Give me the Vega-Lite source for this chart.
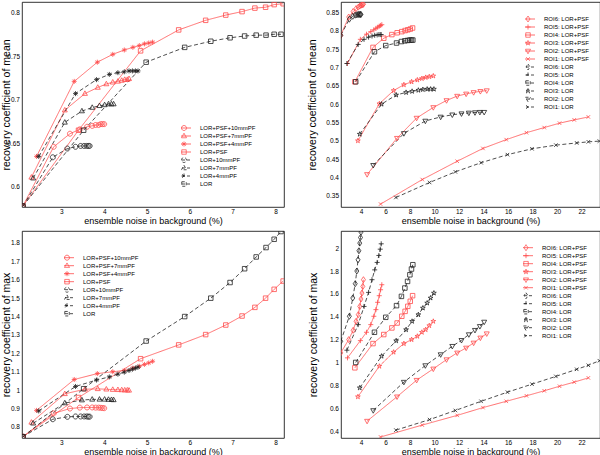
{
"$schema": "https://vega.github.io/schema/vega-lite/v6.json",
"padding": {"left": 0, "top": 1, "right": 0, "bottom": 0},
"autosize": {"type": "pad"},
"bounds": "flush",
"spacing": {"row": 24, "column": 57},
"columns": 2,
"datasets": {
"pf": [
{"s":"LOR+PSF+10mmPF","x":2.1,"mean":0.578,"max":0.747},{"s":"LOR+PSF+10mmPF","x":2.82,"mean":0.646,"max":0.874},{"s":"LOR+PSF+10mmPF","x":3.2,"mean":0.661,"max":0.9},{"s":"LOR+PSF+10mmPF","x":3.43,"mean":0.666,"max":0.905},{"s":"LOR+PSF+10mmPF","x":3.6,"mean":0.669,"max":0.906},{"s":"LOR+PSF+10mmPF","x":3.72,"mean":0.67,"max":0.906},{"s":"LOR+PSF+10mmPF","x":3.8,"mean":0.671,"max":0.905},{"s":"LOR+PSF+10mmPF","x":3.87,"mean":0.671,"max":0.905},{"s":"LOR+PSF+10mmPF","x":3.92,"mean":0.672,"max":0.904},{"s":"LOR+PSF+10mmPF","x":3.96,"mean":0.672,"max":0.903},{"s":"LOR+PSF+10mmPF","x":4.0,"mean":0.672,"max":0.902},
{"s":"LOR+PSF+7mmPF","x":2.3,"mean":0.611,"max":0.825},{"s":"LOR+PSF+7mmPF","x":3.08,"mean":0.688,"max":0.98},{"s":"LOR+PSF+7mmPF","x":3.55,"mean":0.707,"max":1.005},{"s":"LOR+PSF+7mmPF","x":3.85,"mean":0.714,"max":1.007},{"s":"LOR+PSF+7mmPF","x":4.05,"mean":0.718,"max":1.005},{"s":"LOR+PSF+7mmPF","x":4.2,"mean":0.72,"max":1.003},{"s":"LOR+PSF+7mmPF","x":4.32,"mean":0.721,"max":1.002},{"s":"LOR+PSF+7mmPF","x":4.41,"mean":0.722,"max":1.001},{"s":"LOR+PSF+7mmPF","x":4.48,"mean":0.723,"max":1.0},{"s":"LOR+PSF+7mmPF","x":4.54,"mean":0.723,"max":1.0},{"s":"LOR+PSF+7mmPF","x":4.58,"mean":0.724,"max":0.999},
{"s":"LOR+PSF+4mmPF","x":2.42,"mean":0.635,"max":0.89},{"s":"LOR+PSF+4mmPF","x":3.3,"mean":0.721,"max":1.058},{"s":"LOR+PSF+4mmPF","x":3.84,"mean":0.743,"max":1.09},{"s":"LOR+PSF+4mmPF","x":4.2,"mean":0.752,"max":1.1},{"s":"LOR+PSF+4mmPF","x":4.47,"mean":0.757,"max":1.107},{"s":"LOR+PSF+4mmPF","x":4.67,"mean":0.76,"max":1.12},{"s":"LOR+PSF+4mmPF","x":4.82,"mean":0.762,"max":1.13},{"s":"LOR+PSF+4mmPF","x":4.94,"mean":0.764,"max":1.14},{"s":"LOR+PSF+4mmPF","x":5.04,"mean":0.765,"max":1.148},{"s":"LOR+PSF+4mmPF","x":5.13,"mean":0.766,"max":1.157},
{"s":"LOR+PSF","x":2.1,"mean":0.578,"max":0.747},{"s":"LOR+PSF","x":3.4,"mean":0.665,"max":0.96},{"s":"LOR+PSF","x":4.85,"mean":0.756,"max":1.171},{"s":"LOR+PSF","x":5.74,"mean":0.78,"max":1.246},{"s":"LOR+PSF","x":6.37,"mean":0.791,"max":1.302},{"s":"LOR+PSF","x":6.84,"mean":0.797,"max":1.354},{"s":"LOR+PSF","x":7.22,"mean":0.801,"max":1.403},{"s":"LOR+PSF","x":7.52,"mean":0.805,"max":1.45},{"s":"LOR+PSF","x":7.77,"mean":0.806,"max":1.5},{"s":"LOR+PSF","x":7.97,"mean":0.809,"max":1.548},{"s":"LOR+PSF","x":8.18,"mean":0.81,"max":1.593},
{"s":"LOR+10mmPF","x":2.1,"mean":0.578,"max":0.747},{"s":"LOR+10mmPF","x":2.8,"mean":0.634,"max":0.842},{"s":"LOR+10mmPF","x":3.14,"mean":0.644,"max":0.855},{"s":"LOR+10mmPF","x":3.33,"mean":0.646,"max":0.857},{"s":"LOR+10mmPF","x":3.45,"mean":0.647,"max":0.857},{"s":"LOR+10mmPF","x":3.53,"mean":0.647,"max":0.857},{"s":"LOR+10mmPF","x":3.59,"mean":0.647,"max":0.857},{"s":"LOR+10mmPF","x":3.63,"mean":0.647,"max":0.856},{"s":"LOR+10mmPF","x":3.66,"mean":0.647,"max":0.856},
{"s":"LOR+7mmPF","x":2.34,"mean":0.61,"max":0.82},{"s":"LOR+7mmPF","x":3.08,"mean":0.674,"max":0.93},{"s":"LOR+7mmPF","x":3.48,"mean":0.687,"max":0.946},{"s":"LOR+7mmPF","x":3.72,"mean":0.691,"max":0.95},{"s":"LOR+7mmPF","x":3.89,"mean":0.693,"max":0.95},{"s":"LOR+7mmPF","x":4.01,"mean":0.694,"max":0.95},{"s":"LOR+7mmPF","x":4.1,"mean":0.695,"max":0.949},{"s":"LOR+7mmPF","x":4.17,"mean":0.695,"max":0.948},{"s":"LOR+7mmPF","x":4.22,"mean":0.695,"max":0.947},
{"s":"LOR+4mmPF","x":2.47,"mean":0.635,"max":0.887},{"s":"LOR+4mmPF","x":3.33,"mean":0.707,"max":1.02},{"s":"LOR+4mmPF","x":3.82,"mean":0.723,"max":1.055},{"s":"LOR+4mmPF","x":4.12,"mean":0.729,"max":1.072},{"s":"LOR+4mmPF","x":4.32,"mean":0.731,"max":1.087},{"s":"LOR+4mmPF","x":4.47,"mean":0.732,"max":1.098},{"s":"LOR+4mmPF","x":4.58,"mean":0.733,"max":1.107},{"s":"LOR+4mmPF","x":4.66,"mean":0.733,"max":1.114},{"s":"LOR+4mmPF","x":4.73,"mean":0.733,"max":1.12},{"s":"LOR+4mmPF","x":4.79,"mean":0.733,"max":1.125},
{"s":"LOR","x":2.1,"mean":0.578,"max":0.747},{"s":"LOR","x":3.52,"mean":0.665,"max":1.008},{"s":"LOR","x":4.98,"mean":0.743,"max":1.267},{"s":"LOR","x":5.88,"mean":0.76,"max":1.4},{"s":"LOR","x":6.49,"mean":0.767,"max":1.5},{"s":"LOR","x":6.94,"mean":0.771,"max":1.585},{"s":"LOR","x":7.28,"mean":0.773,"max":1.66},{"s":"LOR","x":7.55,"mean":0.774,"max":1.724},{"s":"LOR","x":7.78,"mean":0.774,"max":1.775},{"s":"LOR","x":7.97,"mean":0.775,"max":1.82},{"s":"LOR","x":8.13,"mean":0.775,"max":1.862}
],
"roi": [
{"s":"ROI6: LOR+PSF","x":2.35,"mean":0.788,"max":1.084},{"s":"ROI6: LOR+PSF","x":3.0,"mean":0.838,"max":1.2},{"s":"ROI6: LOR+PSF","x":3.36,"mean":0.853,"max":1.281},{"s":"ROI6: LOR+PSF","x":3.6,"mean":0.861,"max":1.36},{"s":"ROI6: LOR+PSF","x":3.78,"mean":0.865,"max":1.418},{"s":"ROI6: LOR+PSF","x":3.9,"mean":0.868,"max":1.49},{"s":"ROI6: LOR+PSF","x":4.0,"mean":0.87,"max":1.555},{"s":"ROI6: LOR+PSF","x":4.08,"mean":0.871,"max":1.607},{"s":"ROI6: LOR+PSF","x":4.15,"mean":0.872,"max":1.665},{"s":"ROI6: LOR+PSF","x":4.2,"mean":0.873,"max":1.724},
{"s":"ROI5: LOR+PSF","x":2.9,"mean":0.711,"max":1.04},{"s":"ROI5: LOR+PSF","x":3.95,"mean":0.777,"max":1.191},{"s":"ROI5: LOR+PSF","x":4.45,"mean":0.791,"max":1.264},{"s":"ROI5: LOR+PSF","x":4.8,"mean":0.798,"max":1.331},{"s":"ROI5: LOR+PSF","x":5.05,"mean":0.803,"max":1.404},{"s":"ROI5: LOR+PSF","x":5.22,"mean":0.807,"max":1.462},{"s":"ROI5: LOR+PSF","x":5.36,"mean":0.81,"max":1.526},{"s":"ROI5: LOR+PSF","x":5.49,"mean":0.813,"max":1.584},{"s":"ROI5: LOR+PSF","x":5.6,"mean":0.815,"max":1.636},{"s":"ROI5: LOR+PSF","x":5.7,"mean":0.817,"max":1.68},
{"s":"ROI4: LOR+PSF","x":3.5,"mean":0.661,"max":0.953},{"s":"ROI4: LOR+PSF","x":4.98,"mean":0.755,"max":1.165},{"s":"ROI4: LOR+PSF","x":5.86,"mean":0.78,"max":1.244},{"s":"ROI4: LOR+PSF","x":6.52,"mean":0.79,"max":1.302},{"s":"ROI4: LOR+PSF","x":6.95,"mean":0.795,"max":1.345},{"s":"ROI4: LOR+PSF","x":7.33,"mean":0.798,"max":1.404},{"s":"ROI4: LOR+PSF","x":7.6,"mean":0.801,"max":1.447},{"s":"ROI4: LOR+PSF","x":7.82,"mean":0.803,"max":1.491},{"s":"ROI4: LOR+PSF","x":8.02,"mean":0.805,"max":1.535},{"s":"ROI4: LOR+PSF","x":8.21,"mean":0.808,"max":1.584},
{"s":"ROI3: LOR+PSF","x":3.75,"mean":0.5,"max":0.7},{"s":"ROI3: LOR+PSF","x":5.5,"mean":0.601,"max":0.967},{"s":"ROI3: LOR+PSF","x":6.66,"mean":0.637,"max":1.09},{"s":"ROI3: LOR+PSF","x":7.5,"mean":0.653,"max":1.165},{"s":"ROI3: LOR+PSF","x":8.13,"mean":0.661,"max":1.2},{"s":"ROI3: LOR+PSF","x":8.6,"mean":0.666,"max":1.229},{"s":"ROI3: LOR+PSF","x":8.97,"mean":0.67,"max":1.264},{"s":"ROI3: LOR+PSF","x":9.28,"mean":0.673,"max":1.287},{"s":"ROI3: LOR+PSF","x":9.57,"mean":0.675,"max":1.322},{"s":"ROI3: LOR+PSF","x":9.9,"mean":0.677,"max":1.36},
{"s":"ROI2: LOR+PSF","x":4.5,"mean":0.408,"max":0.487},{"s":"ROI2: LOR+PSF","x":6.94,"mean":0.507,"max":0.7},{"s":"ROI2: LOR+PSF","x":8.54,"mean":0.562,"max":0.845},{"s":"ROI2: LOR+PSF","x":9.9,"mean":0.591,"max":0.944},{"s":"ROI2: LOR+PSF","x":10.98,"mean":0.61,"max":1.025},{"s":"ROI2: LOR+PSF","x":11.85,"mean":0.622,"max":1.084},{"s":"ROI2: LOR+PSF","x":12.58,"mean":0.628,"max":1.127},{"s":"ROI2: LOR+PSF","x":13.19,"mean":0.632,"max":1.171},{"s":"ROI2: LOR+PSF","x":13.74,"mean":0.635,"max":1.215},{"s":"ROI2: LOR+PSF","x":14.26,"mean":0.637,"max":1.252},
{"s":"ROI1: LOR+PSF","x":5.6,"mean":0.327,"max":0.348},{"s":"ROI1: LOR+PSF","x":9.0,"mean":0.394,"max":0.452},{"s":"ROI1: LOR+PSF","x":11.85,"mean":0.444,"max":0.537},{"s":"ROI1: LOR+PSF","x":13.95,"mean":0.479,"max":0.605},{"s":"ROI1: LOR+PSF","x":15.85,"mean":0.503,"max":0.66},{"s":"ROI1: LOR+PSF","x":17.5,"mean":0.522,"max":0.708},{"s":"ROI1: LOR+PSF","x":18.95,"mean":0.536,"max":0.752},{"s":"ROI1: LOR+PSF","x":20.2,"mean":0.548,"max":0.792},{"s":"ROI1: LOR+PSF","x":21.4,"mean":0.557,"max":0.828},{"s":"ROI1: LOR+PSF","x":22.55,"mean":0.565,"max":0.865},
{"s":"ROI6: LOR","x":2.35,"mean":0.788,"max":1.185},{"s":"ROI6: LOR","x":3.05,"mean":0.832,"max":1.404},{"s":"ROI6: LOR","x":3.33,"mean":0.84,"max":1.564},{"s":"ROI6: LOR","x":3.53,"mean":0.843,"max":1.689},{"s":"ROI6: LOR","x":3.66,"mean":0.844,"max":1.8},{"s":"ROI6: LOR","x":3.76,"mean":0.845,"max":1.898},{"s":"ROI6: LOR","x":3.83,"mean":0.845,"max":1.977},{"s":"ROI6: LOR","x":3.9,"mean":0.845,"max":2.044},{"s":"ROI6: LOR","x":3.96,"mean":0.845,"max":2.093},{"s":"ROI6: LOR","x":4.0,"mean":0.845,"max":2.14},
{"s":"ROI5: LOR","x":2.85,"mean":0.711,"max":1.107},{"s":"ROI5: LOR","x":3.77,"mean":0.763,"max":1.331},{"s":"ROI5: LOR","x":4.25,"mean":0.777,"max":1.49},{"s":"ROI5: LOR","x":4.62,"mean":0.783,"max":1.613},{"s":"ROI5: LOR","x":4.9,"mean":0.786,"max":1.724},{"s":"ROI5: LOR","x":5.12,"mean":0.788,"max":1.81},{"s":"ROI5: LOR","x":5.32,"mean":0.789,"max":1.875},{"s":"ROI5: LOR","x":5.46,"mean":0.79,"max":1.936},{"s":"ROI5: LOR","x":5.57,"mean":0.79,"max":1.991},{"s":"ROI5: LOR","x":5.65,"mean":0.79,"max":2.038},
{"s":"ROI4: LOR","x":3.57,"mean":0.661,"max":1.0},{"s":"ROI4: LOR","x":5.1,"mean":0.743,"max":1.264},{"s":"ROI4: LOR","x":6.02,"mean":0.76,"max":1.395},{"s":"ROI4: LOR","x":6.9,"mean":0.767,"max":1.497},{"s":"ROI4: LOR","x":7.3,"mean":0.771,"max":1.578},{"s":"ROI4: LOR","x":7.58,"mean":0.773,"max":1.651},{"s":"ROI4: LOR","x":7.8,"mean":0.774,"max":1.709},{"s":"ROI4: LOR","x":7.99,"mean":0.775,"max":1.767},{"s":"ROI4: LOR","x":8.12,"mean":0.775,"max":1.817},{"s":"ROI4: LOR","x":8.23,"mean":0.775,"max":1.855},
{"s":"ROI3: LOR","x":3.9,"mean":0.518,"max":0.778},{"s":"ROI3: LOR","x":5.68,"mean":0.6,"max":1.055},{"s":"ROI3: LOR","x":6.87,"mean":0.625,"max":1.19},{"s":"ROI3: LOR","x":7.68,"mean":0.632,"max":1.287},{"s":"ROI3: LOR","x":8.17,"mean":0.635,"max":1.36},{"s":"ROI3: LOR","x":8.68,"mean":0.638,"max":1.418},{"s":"ROI3: LOR","x":9.05,"mean":0.64,"max":1.476},{"s":"ROI3: LOR","x":9.4,"mean":0.641,"max":1.52},{"s":"ROI3: LOR","x":9.68,"mean":0.641,"max":1.564},{"s":"ROI3: LOR","x":9.95,"mean":0.641,"max":1.607},
{"s":"ROI2: LOR","x":5.0,"mean":0.433,"max":0.58},{"s":"ROI2: LOR","x":7.5,"mean":0.52,"max":0.828},{"s":"ROI2: LOR","x":9.25,"mean":0.554,"max":0.973},{"s":"ROI2: LOR","x":10.5,"mean":0.565,"max":1.069},{"s":"ROI2: LOR","x":11.45,"mean":0.571,"max":1.142},{"s":"ROI2: LOR","x":12.2,"mean":0.574,"max":1.194},{"s":"ROI2: LOR","x":12.8,"mean":0.576,"max":1.244},{"s":"ROI2: LOR","x":13.3,"mean":0.577,"max":1.282},{"s":"ROI2: LOR","x":13.7,"mean":0.578,"max":1.316},{"s":"ROI2: LOR","x":14.05,"mean":0.578,"max":1.354},
{"s":"ROI1: LOR","x":6.85,"mean":0.345,"max":0.408},{"s":"ROI1: LOR","x":9.6,"mean":0.386,"max":0.5},{"s":"ROI1: LOR","x":11.7,"mean":0.415,"max":0.58},{"s":"ROI1: LOR","x":13.8,"mean":0.44,"max":0.66},{"s":"ROI1: LOR","x":15.95,"mean":0.462,"max":0.74},{"s":"ROI1: LOR","x":17.95,"mean":0.478,"max":0.81},{"s":"ROI1: LOR","x":19.9,"mean":0.488,"max":0.878},{"s":"ROI1: LOR","x":21.6,"mean":0.494,"max":0.94},{"s":"ROI1: LOR","x":22.55,"mean":0.497,"max":0.975},{"s":"ROI1: LOR","x":23.45,"mean":0.499,"max":1.015}
]
},
"concat": [
{
"width": 262, "height": 205,
"data": {"name": "pf"},
"encoding": {
"x": {"field": "x", "type": "quantitative", "scale": {"domain": [2.08, 8.2], "nice": false, "zero": false}, "axis": {"values": [3,4,5,6,7,8], "title": "ensemble noise in background (%)"}},
"y": {"field": "mean", "type": "quantitative", "scale": {"domain": [0.577, 0.812], "nice": false, "zero": false}, "axis": {"values": [0.6,0.65,0.7,0.75,0.8], "format": "~g", "title": "recovery coefficient of mean", "titleX": -21, "titleBaseline": "top"}}
},
"layer": [
{"mark": {"type": "line", "clip": true, "strokeWidth": 0.8},
"encoding": {
"color": {"field": "s", "type": "nominal", "scale": {"domain": ["LOR+PSF+10mmPF","LOR+PSF+7mmPF","LOR+PSF+4mmPF","LOR+PSF","LOR+10mmPF","LOR+7mmPF","LOR+4mmPF","LOR"], "range": ["#ff4a4a","#ff4a4a","#ff4a4a","#ff4a4a","#222222","#222222","#222222","#222222"]},
"legend": {"orient": "none", "legendX": 159, "legendY": 122, "title": null, "padding": 0, "symbolSize": 25, "symbolStrokeWidth": 0.8, "labelOffset": 13, "rowPadding": 0, "clipHeight": 8,
"encode": {"symbols": {"update": {"shape": {"signal": "'M-2.8,0L2.8,0' + ['M-1,0A1,1,0,1,1,1,0A1,1,0,1,1,-1,0Z','M0,-1.1L1,0.7L-1,0.7Z','M-1,0L1,0M0,-1L0,1M-0.7,-0.7L0.7,0.7M-0.7,0.7L0.7,-0.7','M-0.9,-0.9L0.9,-0.9L0.9,0.9L-0.9,0.9Z'][indexof(['LOR+PSF+10mmPF','LOR+PSF+7mmPF','LOR+PSF+4mmPF','LOR+PSF','LOR+10mmPF','LOR+7mmPF','LOR+4mmPF','LOR'], datum.value) % 4]"}, "strokeDash": {"signal": "indexof(['LOR+PSF+10mmPF','LOR+PSF+7mmPF','LOR+PSF+4mmPF','LOR+PSF','LOR+10mmPF','LOR+7mmPF','LOR+4mmPF','LOR'], datum.value) >= 4 ? [3,2] : [1,0]"}, "fill": {"value": "transparent"}}}}}},
"strokeDash": {"field": "s", "type": "nominal", "scale": {"domain": ["LOR","LOR+4mmPF","LOR+7mmPF","LOR+10mmPF","LOR+PSF","LOR+PSF+4mmPF","LOR+PSF+7mmPF","LOR+PSF+10mmPF"], "range": [[4,2.5],[4,2.5],[4,2.5],[4,2.5],[1,0],[1,0],[1,0],[1,0]]}, "legend": null}
}},
{"mark": {"type": "point", "clip": true, "filled": false, "strokeWidth": 0.8, "size": 25, "opacity": 1},
"encoding": {
"color": {"field": "s", "type": "nominal", "scale": {"domain": ["LOR+PSF+10mmPF","LOR+PSF+7mmPF","LOR+PSF+4mmPF","LOR+PSF","LOR+10mmPF","LOR+7mmPF","LOR+4mmPF","LOR"], "range": ["#ff4a4a","#ff4a4a","#ff4a4a","#ff4a4a","#222222","#222222","#222222","#222222"]}, "legend": null},
"shape": {"field": "s", "type": "nominal", "scale": {"domain": ["LOR+10mmPF","LOR+7mmPF","LOR+4mmPF","LOR","LOR+PSF+10mmPF","LOR+PSF+7mmPF","LOR+PSF+4mmPF","LOR+PSF"], "range": ["M-1,0A1,1,0,1,1,1,0A1,1,0,1,1,-1,0Z","M0,-1.1L1,0.7L-1,0.7Z","M-1,0L1,0M0,-1L0,1M-0.7,-0.7L0.7,0.7M-0.7,0.7L0.7,-0.7","M-0.9,-0.9L0.9,-0.9L0.9,0.9L-0.9,0.9Z","M-1,0A1,1,0,1,1,1,0A1,1,0,1,1,-1,0Z","M0,-1.1L1,0.7L-1,0.7Z","M-1,0L1,0M0,-1L0,1M-0.7,-0.7L0.7,0.7M-0.7,0.7L0.7,-0.7","M-0.9,-0.9L0.9,-0.9L0.9,0.9L-0.9,0.9Z"]}, "legend": null}
}}
]
},
{
"width": 259, "height": 205,
"data": {"name": "roi"},
"encoding": {
"x": {"field": "x", "type": "quantitative", "scale": {"domain": [2.37, 23.5], "nice": false, "zero": false}, "axis": {"values": [4,6,8,10,12,14,16,18,20,22], "title": "ensemble noise in background (%)"}},
"y": {"field": "mean", "type": "quantitative", "scale": {"domain": [0.319, 0.879], "nice": false, "zero": false}, "axis": {"values": [0.35,0.4,0.45,0.5,0.55,0.6,0.65,0.7,0.75,0.8,0.85], "format": "~g", "title": "recovery coefficient of mean", "titleX": -34, "titleBaseline": "top"}}
},
"layer": [
{"mark": {"type": "line", "clip": true, "strokeWidth": 0.8},
"encoding": {
"color": {"field": "s", "type": "nominal", "scale": {"domain": ["ROI6: LOR+PSF","ROI5: LOR+PSF","ROI4: LOR+PSF","ROI3: LOR+PSF","ROI2: LOR+PSF","ROI1: LOR+PSF","ROI6: LOR","ROI5: LOR","ROI4: LOR","ROI3: LOR","ROI2: LOR","ROI1: LOR"], "range": ["#ff4a4a","#ff4a4a","#ff4a4a","#ff4a4a","#ff4a4a","#ff4a4a","#222222","#222222","#222222","#222222","#222222","#222222"]},
"legend": {"orient": "none", "legendX": 184, "legendY": 13, "title": null, "padding": 0, "symbolSize": 25, "symbolStrokeWidth": 0.8, "labelOffset": 13, "rowPadding": 0, "clipHeight": 8,
"encode": {"symbols": {"update": {"shape": {"signal": "'M-2.8,0L2.8,0' + ['M0,-1.2L0.8,0L0,1.2L-0.8,0Z','M-1,0L1,0M0,-1L0,1','M-0.9,-0.9L0.9,-0.9L0.9,0.9L-0.9,0.9Z','M0,-1L0.225,-0.309L0.951,-0.309L0.363,0.118L0.588,0.809L0,0.382L-0.588,0.809L-0.363,0.118L-0.951,-0.309L-0.225,-0.309Z','M-1,-0.7L1,-0.7L0,1.1Z','M-0.7,-0.7L0.7,0.7M-0.7,0.7L0.7,-0.7'][indexof(['ROI6: LOR+PSF','ROI5: LOR+PSF','ROI4: LOR+PSF','ROI3: LOR+PSF','ROI2: LOR+PSF','ROI1: LOR+PSF','ROI6: LOR','ROI5: LOR','ROI4: LOR','ROI3: LOR','ROI2: LOR','ROI1: LOR'], datum.value) % 6]"}, "strokeDash": {"signal": "indexof(['ROI6: LOR+PSF','ROI5: LOR+PSF','ROI4: LOR+PSF','ROI3: LOR+PSF','ROI2: LOR+PSF','ROI1: LOR+PSF','ROI6: LOR','ROI5: LOR','ROI4: LOR','ROI3: LOR','ROI2: LOR','ROI1: LOR'], datum.value) >= 6 ? [3,2] : [1,0]"}, "fill": {"value": "transparent"}}}}}},
"strokeDash": {"field": "s", "type": "nominal", "scale": {"domain": ["ROI1: LOR","ROI2: LOR","ROI3: LOR","ROI4: LOR","ROI5: LOR","ROI6: LOR","ROI1: LOR+PSF","ROI2: LOR+PSF","ROI3: LOR+PSF","ROI4: LOR+PSF","ROI5: LOR+PSF","ROI6: LOR+PSF"], "range": [[4,2.5],[4,2.5],[4,2.5],[4,2.5],[4,2.5],[4,2.5],[1,0],[1,0],[1,0],[1,0],[1,0],[1,0]]}, "legend": null}
}},
{"mark": {"type": "point", "clip": true, "filled": false, "strokeWidth": 0.8, "size": 25, "opacity": 1},
"encoding": {
"color": {"field": "s", "type": "nominal", "scale": {"domain": ["ROI6: LOR+PSF","ROI5: LOR+PSF","ROI4: LOR+PSF","ROI3: LOR+PSF","ROI2: LOR+PSF","ROI1: LOR+PSF","ROI6: LOR","ROI5: LOR","ROI4: LOR","ROI3: LOR","ROI2: LOR","ROI1: LOR"], "range": ["#ff4a4a","#ff4a4a","#ff4a4a","#ff4a4a","#ff4a4a","#ff4a4a","#222222","#222222","#222222","#222222","#222222","#222222"]}, "legend": null},
"shape": {"field": "s", "type": "nominal", "scale": {"domain": ["ROI6: LOR","ROI5: LOR","ROI4: LOR","ROI3: LOR","ROI2: LOR","ROI1: LOR","ROI6: LOR+PSF","ROI5: LOR+PSF","ROI4: LOR+PSF","ROI3: LOR+PSF","ROI2: LOR+PSF","ROI1: LOR+PSF"], "range": ["M0,-1.2L0.8,0L0,1.2L-0.8,0Z","M-1,0L1,0M0,-1L0,1","M-0.9,-0.9L0.9,-0.9L0.9,0.9L-0.9,0.9Z","M0,-1L0.225,-0.309L0.951,-0.309L0.363,0.118L0.588,0.809L0,0.382L-0.588,0.809L-0.363,0.118L-0.951,-0.309L-0.225,-0.309Z","M-1,-0.7L1,-0.7L0,1.1Z","M-0.7,-0.7L0.7,0.7M-0.7,0.7L0.7,-0.7","M0,-1.2L0.8,0L0,1.2L-0.8,0Z","M-1,0L1,0M0,-1L0,1","M-0.9,-0.9L0.9,-0.9L0.9,0.9L-0.9,0.9Z","M0,-1L0.225,-0.309L0.951,-0.309L0.363,0.118L0.588,0.809L0,0.382L-0.588,0.809L-0.363,0.118L-0.951,-0.309L-0.225,-0.309Z","M-1,-0.7L1,-0.7L0,1.1Z","M-0.7,-0.7L0.7,0.7M-0.7,0.7L0.7,-0.7"]}, "legend": null}
}}
]
},
{
"width": 262, "height": 207,
"data": {"name": "pf"},
"encoding": {
"x": {"field": "x", "type": "quantitative", "scale": {"domain": [2.08, 8.2], "nice": false, "zero": false}, "axis": {"values": [3,4,5,6,7,8], "title": "ensemble noise in background (%)"}},
"y": {"field": "max", "type": "quantitative", "scale": {"domain": [0.74, 1.865], "nice": false, "zero": false}, "axis": {"values": [0.8,0.9,1,1.1,1.2,1.3,1.4,1.5,1.6,1.7,1.8], "format": "~g", "title": "recovery coefficient of max", "titleX": -21, "titleBaseline": "top"}}
},
"layer": [
{"mark": {"type": "line", "clip": true, "strokeWidth": 0.8},
"encoding": {
"color": {"field": "s", "type": "nominal", "scale": {"domain": ["LOR+PSF+10mmPF","LOR+PSF+7mmPF","LOR+PSF+4mmPF","LOR+PSF","LOR+10mmPF","LOR+7mmPF","LOR+4mmPF","LOR"], "range": ["#ff4a4a","#ff4a4a","#ff4a4a","#ff4a4a","#222222","#222222","#222222","#222222"]},
"legend": {"orient": "none", "legendX": 42, "legendY": 22.7, "title": null, "padding": 0, "symbolSize": 25, "symbolStrokeWidth": 0.8, "labelOffset": 13, "rowPadding": 0, "clipHeight": 8,
"encode": {"symbols": {"update": {"shape": {"signal": "'M-2.8,0L2.8,0' + ['M-1,0A1,1,0,1,1,1,0A1,1,0,1,1,-1,0Z','M0,-1.1L1,0.7L-1,0.7Z','M-1,0L1,0M0,-1L0,1M-0.7,-0.7L0.7,0.7M-0.7,0.7L0.7,-0.7','M-0.9,-0.9L0.9,-0.9L0.9,0.9L-0.9,0.9Z'][indexof(['LOR+PSF+10mmPF','LOR+PSF+7mmPF','LOR+PSF+4mmPF','LOR+PSF','LOR+10mmPF','LOR+7mmPF','LOR+4mmPF','LOR'], datum.value) % 4]"}, "strokeDash": {"signal": "indexof(['LOR+PSF+10mmPF','LOR+PSF+7mmPF','LOR+PSF+4mmPF','LOR+PSF','LOR+10mmPF','LOR+7mmPF','LOR+4mmPF','LOR'], datum.value) >= 4 ? [3,2] : [1,0]"}, "fill": {"value": "transparent"}}}}}},
"strokeDash": {"field": "s", "type": "nominal", "scale": {"domain": ["LOR","LOR+4mmPF","LOR+7mmPF","LOR+10mmPF","LOR+PSF","LOR+PSF+4mmPF","LOR+PSF+7mmPF","LOR+PSF+10mmPF"], "range": [[4,2.5],[4,2.5],[4,2.5],[4,2.5],[1,0],[1,0],[1,0],[1,0]]}, "legend": null}
}},
{"mark": {"type": "point", "clip": true, "filled": false, "strokeWidth": 0.8, "size": 25, "opacity": 1},
"encoding": {
"color": {"field": "s", "type": "nominal", "scale": {"domain": ["LOR+PSF+10mmPF","LOR+PSF+7mmPF","LOR+PSF+4mmPF","LOR+PSF","LOR+10mmPF","LOR+7mmPF","LOR+4mmPF","LOR"], "range": ["#ff4a4a","#ff4a4a","#ff4a4a","#ff4a4a","#222222","#222222","#222222","#222222"]}, "legend": null},
"shape": {"field": "s", "type": "nominal", "scale": {"domain": ["LOR+10mmPF","LOR+7mmPF","LOR+4mmPF","LOR","LOR+PSF+10mmPF","LOR+PSF+7mmPF","LOR+PSF+4mmPF","LOR+PSF"], "range": ["M-1,0A1,1,0,1,1,1,0A1,1,0,1,1,-1,0Z","M0,-1.1L1,0.7L-1,0.7Z","M-1,0L1,0M0,-1L0,1M-0.7,-0.7L0.7,0.7M-0.7,0.7L0.7,-0.7","M-0.9,-0.9L0.9,-0.9L0.9,0.9L-0.9,0.9Z","M-1,0A1,1,0,1,1,1,0A1,1,0,1,1,-1,0Z","M0,-1.1L1,0.7L-1,0.7Z","M-1,0L1,0M0,-1L0,1M-0.7,-0.7L0.7,0.7M-0.7,0.7L0.7,-0.7","M-0.9,-0.9L0.9,-0.9L0.9,0.9L-0.9,0.9Z"]}, "legend": null}
}}
]
},
{
"width": 259, "height": 207,
"data": {"name": "roi"},
"encoding": {
"x": {"field": "x", "type": "quantitative", "scale": {"domain": [2.37, 23.5], "nice": false, "zero": false}, "axis": {"values": [4,6,8,10,12,14,16,18,20,22], "title": "ensemble noise in background (%)"}},
"y": {"field": "max", "type": "quantitative", "scale": {"domain": [0.339, 2.15], "nice": false, "zero": false}, "axis": {"values": [0.4,0.6,0.8,1,1.2,1.4,1.6,1.8,2], "format": "~g", "title": "recovery coefficient of max", "titleX": -33, "titleBaseline": "top"}}
},
"layer": [
{"mark": {"type": "line", "clip": true, "strokeWidth": 0.8},
"encoding": {
"color": {"field": "s", "type": "nominal", "scale": {"domain": ["ROI6: LOR+PSF","ROI5: LOR+PSF","ROI4: LOR+PSF","ROI3: LOR+PSF","ROI2: LOR+PSF","ROI1: LOR+PSF","ROI6: LOR","ROI5: LOR","ROI4: LOR","ROI3: LOR","ROI2: LOR","ROI1: LOR"], "range": ["#ff4a4a","#ff4a4a","#ff4a4a","#ff4a4a","#ff4a4a","#ff4a4a","#222222","#222222","#222222","#222222","#222222","#222222"]},
"legend": {"orient": "none", "legendX": 182, "legendY": 12.7, "title": null, "padding": 0, "symbolSize": 25, "symbolStrokeWidth": 0.8, "labelOffset": 13, "rowPadding": 0, "clipHeight": 8,
"encode": {"symbols": {"update": {"shape": {"signal": "'M-2.8,0L2.8,0' + ['M0,-1.2L0.8,0L0,1.2L-0.8,0Z','M-1,0L1,0M0,-1L0,1','M-0.9,-0.9L0.9,-0.9L0.9,0.9L-0.9,0.9Z','M0,-1L0.225,-0.309L0.951,-0.309L0.363,0.118L0.588,0.809L0,0.382L-0.588,0.809L-0.363,0.118L-0.951,-0.309L-0.225,-0.309Z','M-1,-0.7L1,-0.7L0,1.1Z','M-0.7,-0.7L0.7,0.7M-0.7,0.7L0.7,-0.7'][indexof(['ROI6: LOR+PSF','ROI5: LOR+PSF','ROI4: LOR+PSF','ROI3: LOR+PSF','ROI2: LOR+PSF','ROI1: LOR+PSF','ROI6: LOR','ROI5: LOR','ROI4: LOR','ROI3: LOR','ROI2: LOR','ROI1: LOR'], datum.value) % 6]"}, "strokeDash": {"signal": "indexof(['ROI6: LOR+PSF','ROI5: LOR+PSF','ROI4: LOR+PSF','ROI3: LOR+PSF','ROI2: LOR+PSF','ROI1: LOR+PSF','ROI6: LOR','ROI5: LOR','ROI4: LOR','ROI3: LOR','ROI2: LOR','ROI1: LOR'], datum.value) >= 6 ? [3,2] : [1,0]"}, "fill": {"value": "transparent"}}}}}},
"strokeDash": {"field": "s", "type": "nominal", "scale": {"domain": ["ROI1: LOR","ROI2: LOR","ROI3: LOR","ROI4: LOR","ROI5: LOR","ROI6: LOR","ROI1: LOR+PSF","ROI2: LOR+PSF","ROI3: LOR+PSF","ROI4: LOR+PSF","ROI5: LOR+PSF","ROI6: LOR+PSF"], "range": [[4,2.5],[4,2.5],[4,2.5],[4,2.5],[4,2.5],[4,2.5],[1,0],[1,0],[1,0],[1,0],[1,0],[1,0]]}, "legend": null}
}},
{"mark": {"type": "point", "clip": true, "filled": false, "strokeWidth": 0.8, "size": 25, "opacity": 1},
"encoding": {
"color": {"field": "s", "type": "nominal", "scale": {"domain": ["ROI6: LOR+PSF","ROI5: LOR+PSF","ROI4: LOR+PSF","ROI3: LOR+PSF","ROI2: LOR+PSF","ROI1: LOR+PSF","ROI6: LOR","ROI5: LOR","ROI4: LOR","ROI3: LOR","ROI2: LOR","ROI1: LOR"], "range": ["#ff4a4a","#ff4a4a","#ff4a4a","#ff4a4a","#ff4a4a","#ff4a4a","#222222","#222222","#222222","#222222","#222222","#222222"]}, "legend": null},
"shape": {"field": "s", "type": "nominal", "scale": {"domain": ["ROI6: LOR","ROI5: LOR","ROI4: LOR","ROI3: LOR","ROI2: LOR","ROI1: LOR","ROI6: LOR+PSF","ROI5: LOR+PSF","ROI4: LOR+PSF","ROI3: LOR+PSF","ROI2: LOR+PSF","ROI1: LOR+PSF"], "range": ["M0,-1.2L0.8,0L0,1.2L-0.8,0Z","M-1,0L1,0M0,-1L0,1","M-0.9,-0.9L0.9,-0.9L0.9,0.9L-0.9,0.9Z","M0,-1L0.225,-0.309L0.951,-0.309L0.363,0.118L0.588,0.809L0,0.382L-0.588,0.809L-0.363,0.118L-0.951,-0.309L-0.225,-0.309Z","M-1,-0.7L1,-0.7L0,1.1Z","M-0.7,-0.7L0.7,0.7M-0.7,0.7L0.7,-0.7","M0,-1.2L0.8,0L0,1.2L-0.8,0Z","M-1,0L1,0M0,-1L0,1","M-0.9,-0.9L0.9,-0.9L0.9,0.9L-0.9,0.9Z","M0,-1L0.225,-0.309L0.951,-0.309L0.363,0.118L0.588,0.809L0,0.382L-0.588,0.809L-0.363,0.118L-0.951,-0.309L-0.225,-0.309Z","M-1,-0.7L1,-0.7L0,1.1Z","M-0.7,-0.7L0.7,0.7M-0.7,0.7L0.7,-0.7"]}, "legend": null}
}}
]
}
],
"resolve": {
"scale": {"x": "independent", "y": "independent", "color": "independent", "shape": "independent", "strokeDash": "independent"},
"legend": {"color": "independent", "shape": "independent", "strokeDash": "independent"}
},
"config": {
"font": "Liberation Sans",
"view": {"stroke": "#000000", "strokeWidth": 0.8},
"axis": {"domain": false, "ticks": false, "grid": false, "labelFont": "Liberation Sans", "labelFontSize": 6.5, "labelColor": "#000000", "titleColor": "#000000", "titleFont": "Liberation Sans", "titleFontWeight": "normal", "labelOverlap": false, "labelFlush": false},
"axisX": {"titleFontSize": 9, "titlePadding": 1, "labelPadding": 1.5},
"axisY": {"titleFontSize": 10.5, "titlePadding": 1, "labelPadding": 2.5},
"legend": {"labelFont": "Liberation Sans", "labelFontSize": 6, "labelColor": "#000000"}
}
}
